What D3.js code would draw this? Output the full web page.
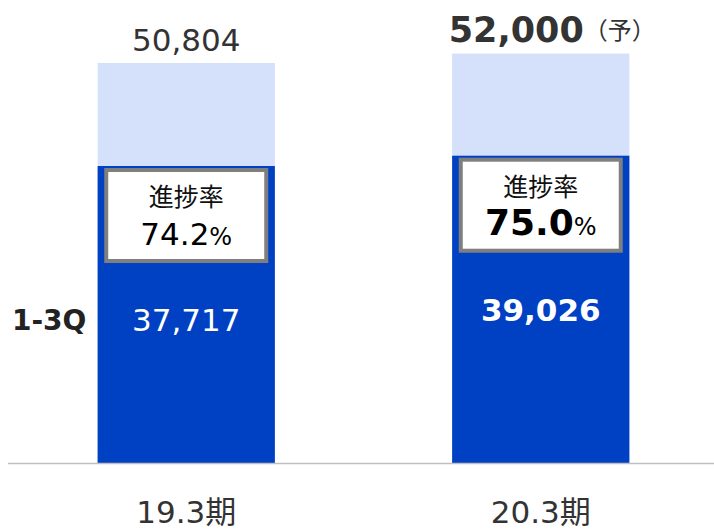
<!DOCTYPE html>
<html>
<head>
<meta charset="utf-8">
<script src="https://cdn.jsdelivr.net/npm/d3@7"></script>
<style>
  body { margin: 0; background: #fff; }
  text { font-family: "DejaVu Sans", "Noto Sans CJK JP", sans-serif; }
</style>
</head>
<body>
<svg id="chart"></svg>
<script>
// data
const periods = ["19.3期", "20.3期"];
const fullYear = [50804, 52000];
const q13 = [37717, 39026];
const progress = [74.2, 75.0];
const forecast = [false, true];

const width = 714, height = 529;
const baseY = 463;

const svg = d3.select("#chart")
    .attr("width", width)
    .attr("height", height);

const data = periods.map((p, i) => ({
    period: p, total: fullYear[i], q13: q13[i], rate: progress[i], fc: forecast[i]
}));

const xScale = d3.scaleBand()
    .domain(periods)
    .range([9, 718])
    .paddingInner(0.5)
    .paddingOuter(0.25);

const yScale = d3.scaleLinear()
    .domain([0, 58800])
    .range([baseY, 0]);

const fmt = d3.format(",");
const cx = d => xScale(d.period) + xScale.bandwidth() / 2;

// full year (light)
svg.append("g").selectAll("rect")
    .data(data)
    .join("rect")
    .attr("x", d => xScale(d.period))
    .attr("y", d => yScale(d.total))
    .attr("width", xScale.bandwidth())
    .attr("height", d => baseY - yScale(d.total))
    .attr("fill", "#d5e1fb");

// 1-3Q (dark)
svg.append("g").selectAll("rect")
    .data(data)
    .join("rect")
    .attr("x", d => xScale(d.period))
    .attr("y", d => yScale(d.q13))
    .attr("width", xScale.bandwidth())
    .attr("height", d => baseY - yScale(d.q13))
    .attr("fill", "#0041c4");

// baseline
svg.append("line")
    .attr("x1", 8).attr("x2", width)
    .attr("y1", baseY + 0.5).attr("y2", baseY + 0.5)
    .attr("stroke", "#bfbfbf")
    .attr("stroke-width", 1.5);

// totals on top
const totals = svg.append("g").selectAll("text")
    .data(data)
    .join("text")
    .attr("x", d => d.fc ? cx(d) - 92 : cx(d))
    .attr("y", d => yScale(d.total) - 12)
    .attr("text-anchor", d => d.fc ? "start" : "middle")
    .attr("fill", "#333");
totals.append("tspan")
    .attr("font-size", d => d.fc ? 35 : 31)
    .attr("font-weight", d => d.fc ? "bold" : "normal")
    .text(d => fmt(d.total));
totals.filter(d => d.fc).append("tspan")
    .attr("font-size", 24)
    .attr("dy", -3)
    .text("（予）");

// progress boxes
const box = svg.append("g").selectAll("g")
    .data(data)
    .join("g")
    .attr("transform", d => `translate(${cx(d)}, ${yScale(d.q13) + 2})`);

box.append("rect")
    .attr("x", -80).attr("y", 2)
    .attr("width", 160).attr("height", 91)
    .attr("fill", "#fff")
    .attr("stroke", "#7f7f7f")
    .attr("stroke-width", 4);

box.append("text")
    .attr("y", 38)
    .attr("text-anchor", "middle")
    .attr("font-size", 25)
    .attr("fill", "#111")
    .text("進捗率");

const rateText = box.append("text")
    .attr("y", 77)
    .attr("text-anchor", "middle")
    .attr("fill", "#000");
rateText.append("tspan")
    .attr("font-size", d => d.fc ? 36 : 31)
    .attr("font-weight", d => d.fc ? "bold" : "normal")
    .text(d => d.rate.toFixed(1));
rateText.append("tspan")
    .attr("font-size", 24)
    .text("%");

// 1-3Q values inside dark bars
svg.append("g").selectAll("text")
    .data(data)
    .join("text")
    .attr("x", d => cx(d))
    .attr("y", d => yScale(d.q13) + 165)
    .attr("text-anchor", "middle")
    .attr("fill", "#fff")
    .attr("font-size", d => d.fc ? 31 : 31)
    .attr("font-weight", d => d.fc ? "bold" : "normal")
    .text(d => fmt(d.q13));

// series label
svg.append("text")
    .attr("x", 12)
    .attr("y", 330)
    .attr("font-size", 28)
    .attr("font-weight", "bold")
    .attr("fill", "#222")
    .text("1-3Q");

// period labels
svg.append("g").selectAll("text")
    .data(data)
    .join("text")
    .attr("x", d => cx(d))
    .attr("y", 523)
    .attr("text-anchor", "middle")
    .attr("font-size", 31)
    .attr("fill", "#333")
    .text(d => d.period);
</script>
</body>
</html>
